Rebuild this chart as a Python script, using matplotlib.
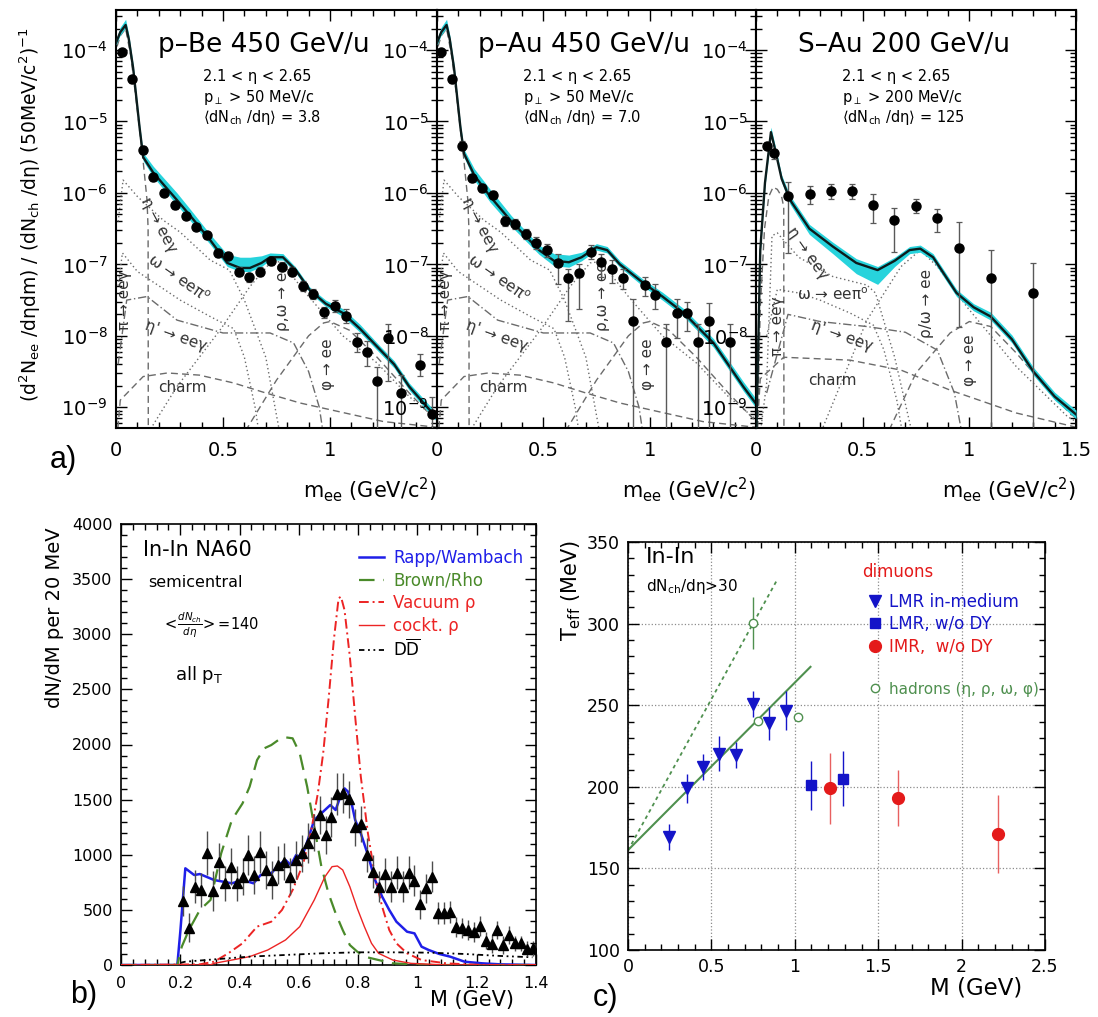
import numpy as np
import matplotlib
matplotlib.use("Agg")
import matplotlib.pyplot as plt
from matplotlib.ticker import MultipleLocator, LogLocator, NullFormatter, FuncFormatter

plt.rcParams['font.family'] = ['DejaVu Sans']
plt.rcParams['mathtext.fontset'] = 'dejavusans'

# ---------------- a) CERES e+e- spectra, values are log10 of the yield ----------------
pBe_m = [0.028, 0.075, 0.127, 0.175, 0.224, 0.275, 0.325, 0.376, 0.425, 0.475, 0.525, 0.574, 0.622, 0.674,
         0.724, 0.775, 0.823, 0.873, 0.922, 0.972, 1.023, 1.073, 1.124, 1.172, 1.22, 1.27, 1.33, 1.42, 1.475]
pBe_y = [-4.03, -4.41, -5.40, -5.78, -6.00, -6.17, -6.32, -6.47, -6.59, -6.84, -6.88, -7.10, -7.18, -7.10,
         -6.95, -7.03, -7.10, -7.30, -7.42, -7.67, -7.58, -7.72, -8.08, -8.22, -8.63, -8.03, -8.80, -8.41, -9.10]
pBe_dn = [0.04, 0.05, 0.05, 0.05, 0.05, 0.05, 0.05, 0.05, 0.05, 0.05, 0.05, 0.06, 0.06, 0.06, 0.06, 0.06,
          0.06, 0.07, 0.07, 0.08, 0.08, 0.1, 0.15, 0.2, 1.5, 0.6, 1.5, 0.15, 0.5]
pBe_up = [0.04, 0.05, 0.05, 0.05, 0.05, 0.05, 0.05, 0.05, 0.05, 0.05, 0.05, 0.06, 0.06, 0.06, 0.06, 0.06,
          0.06, 0.07, 0.07, 0.08, 0.08, 0.1, 0.12, 0.15, 0.2, 0.2, 0.25, 0.15, 0.25]
pBe_tot_m = [0.0, 0.02, 0.045, 0.06, 0.08, 0.11, 0.127, 0.175, 0.285, 0.35, 0.44, 0.52, 0.58, 0.626, 0.68,
             0.72, 0.78, 0.84, 0.906, 0.98, 1.06, 1.14, 1.22, 1.3, 1.37, 1.44, 1.5]
pBe_tot_y = [-3.9, -3.75, -3.65, -3.85, -4.25, -5.08, -5.5, -5.72, -6.1, -6.33, -6.66, -6.98, -7.05, -7.05,
             -6.98, -6.9, -6.9, -7.08, -7.36, -7.55, -7.68, -7.9, -8.15, -8.4, -8.71, -8.95, -9.15]
pBe_band_dn = [0.03, 0.04, 0.04, 0.04, 0.05, 0.05, 0.05, 0.06, 0.07, 0.07, 0.06, 0.05, 0.05, 0.05, 0.05,
               0.04, 0.04, 0.04, 0.04, 0.04, 0.05, 0.05, 0.05, 0.05, 0.05, 0.05, 0.05]
pBe_band_up = [0.05, 0.07, 0.08, 0.06, 0.05, 0.05, 0.06, 0.09, 0.1, 0.09, 0.08, 0.12, 0.15, 0.15, 0.1,
               0.06, 0.05, 0.04, 0.04, 0.05, 0.06, 0.06, 0.05, 0.05, 0.05, 0.06, 0.06]

pAu_m = [0.02, 0.07, 0.118, 0.165, 0.212, 0.264, 0.32, 0.368, 0.42, 0.467, 0.519, 0.571, 0.618, 0.67,
         0.722, 0.773, 0.821, 0.873, 0.92, 0.976, 1.024, 1.075, 1.127, 1.175, 1.226, 1.278, 1.377]
pAu_y = [-4.03, -4.41, -5.34, -5.79, -5.93, -6.03, -6.39, -6.43, -6.57, -6.70, -6.80, -6.98, -7.19, -7.12,
         -6.83, -6.97, -7.06, -7.19, -7.79, -7.29, -7.43, -8.08, -7.68, -7.68, -8.08, -7.79, -8.08]
pAu_dn = [0.04, 0.05, 0.06, 0.06, 0.06, 0.06, 0.07, 0.07, 0.07, 0.08, 0.1, 0.3, 0.6, 0.5, 0.1, 0.2, 0.2,
          0.15, 2.0, 0.15, 0.2, 2.0, 0.35, 0.25, 2.0, 2.0, 2.0]
pAu_up = [0.04, 0.05, 0.06, 0.06, 0.06, 0.06, 0.07, 0.07, 0.07, 0.08, 0.08, 0.12, 0.12, 0.12, 0.1, 0.12,
          0.12, 0.12, 0.3, 0.12, 0.15, 0.25, 0.2, 0.15, 0.25, 0.25, 0.25]
pAu_tot_m = [0.0, 0.02, 0.045, 0.06, 0.08, 0.11, 0.127, 0.175, 0.25, 0.35, 0.48, 0.55, 0.62, 0.68, 0.75,
             0.8, 0.86, 0.97, 1.06, 1.16, 1.3, 1.44, 1.5]
pAu_tot_y = [-3.9, -3.75, -3.65, -3.85, -4.25, -5.08, -5.45, -5.75, -6.05, -6.4, -6.8, -6.95, -6.97, -6.9,
             -6.76, -6.8, -7.0, -7.26, -7.45, -7.68, -8.1, -8.71, -8.95]
pAu_band_dn = [0.03, 0.04, 0.04, 0.04, 0.05, 0.05, 0.05, 0.07, 0.08, 0.07, 0.06, 0.07, 0.07, 0.05, 0.04,
               0.04, 0.04, 0.05, 0.05, 0.05, 0.06, 0.06, 0.06]
pAu_band_up = [0.05, 0.07, 0.08, 0.06, 0.05, 0.05, 0.06, 0.09, 0.1, 0.08, 0.07, 0.1, 0.1, 0.07, 0.05,
               0.05, 0.05, 0.05, 0.06, 0.06, 0.06, 0.07, 0.07]

SAu_m = [0.052, 0.085, 0.15, 0.253, 0.352, 0.45, 0.55, 0.648, 0.75, 0.85, 0.953, 1.10, 1.30]
SAu_y = [-5.34, -5.44, -6.04, -6.01, -5.97, -5.97, -6.17, -6.38, -6.18, -6.35, -6.77, -7.19, -7.40]
SAu_dn = [0.05, 0.08, 0.8, 0.15, 0.12, 0.12, 0.25, 0.45, 0.1, 0.2, 1.1, 2.5, 2.5]
SAu_up = [0.05, 0.06, 0.19, 0.1, 0.1, 0.1, 0.15, 0.17, 0.1, 0.12, 0.37, 0.39, 0.42]
SAu_tot_m = [0.002, 0.02, 0.042, 0.07, 0.09, 0.12, 0.16, 0.25, 0.36, 0.47, 0.57, 0.65, 0.72, 0.77, 0.83,
             0.94, 1.02, 1.1, 1.2, 1.3, 1.4, 1.5]
SAu_tot_y = [-9.3, -6.8, -5.86, -5.15, -5.4, -5.8, -6.1, -6.5, -6.75, -6.98, -7.08, -6.95, -6.8, -6.78,
             -6.9, -7.4, -7.6, -7.73, -8.05, -8.5, -8.85, -9.1]
SAu_band_dn = [0.05, 0.05, 0.05, 0.05, 0.05, 0.05, 0.06, 0.08, 0.1, 0.15, 0.2, 0.08, 0.05, 0.05, 0.05,
               0.05, 0.05, 0.05, 0.05, 0.05, 0.05, 0.06]
SAu_band_up = [0.05, 0.05, 0.06, 0.07, 0.06, 0.05, 0.06, 0.06, 0.06, 0.06, 0.05, 0.05, 0.05, 0.05, 0.05,
               0.05, 0.05, 0.06, 0.06, 0.06, 0.06, 0.06]

# hadron decay cocktail for the p-A panels (log10 yield)
pp_pi0_m = [0.005, 0.02, 0.045, 0.07, 0.1, 0.125, 0.145, 0.15, 0.151]
pp_pi0_y = [-3.95, -3.8, -3.7, -4.1, -4.85, -5.5, -6.1, -6.5, -9.6]
pp_eta_m = [0.01, 0.033, 0.1, 0.22, 0.3, 0.44, 0.53, 0.6, 0.7, 0.78]
pp_eta_y = [-6.4, -5.82, -6.05, -6.38, -6.55, -6.94, -7.08, -7.5, -8.3, -9.6]
pp_omega_m = [0.01, 0.03, 0.1, 0.2, 0.3, 0.44, 0.55, 0.6, 0.65, 0.68]
pp_omega_y = [-7.3, -6.84, -7.1, -7.3, -7.5, -7.73, -7.9, -8.3, -9.0, -9.6]
pp_etap_m = [0.01, 0.05, 0.145, 0.285, 0.5, 0.72, 0.83, 0.9, 0.95, 0.98]
pp_etap_y = [-8.4, -7.5, -7.45, -7.78, -7.96, -7.96, -8.1, -8.5, -9.0, -9.6]
pp_rho_m = [0.1, 0.285, 0.486, 0.626, 0.72, 0.77, 0.9, 1.06, 1.22, 1.37, 1.5]
pp_rho_y = [-9.6, -8.71, -7.92, -7.31, -6.98, -6.96, -7.45, -8.0, -8.38, -8.85, -9.17]
pp_charm_m = [0.0, 0.02, 0.127, 0.24, 0.39, 0.55, 0.7, 0.86, 1.01, 1.25, 1.5]
pp_charm_y = [-9.6, -8.9, -8.57, -8.52, -8.55, -8.66, -8.8, -8.94, -9.04, -9.2, -9.28]
pp_phi_m = [0.55, 0.75, 0.9, 0.97, 1.0, 1.09, 1.22, 1.37, 1.5]
pp_phi_y = [-9.6, -8.62, -8.0, -7.82, -7.8, -7.92, -8.3, -8.8, -9.2]

# cocktail for the S-Au panel
sa_pi0_m = [0.005, 0.02, 0.04, 0.06, 0.08, 0.1, 0.12, 0.13, 0.131]
sa_pi0_y = [-9.6, -7.6, -6.5, -6.05, -5.92, -5.95, -6.05, -6.2, -9.6]
sa_eta_m = [0.01, 0.05, 0.075, 0.1, 0.2, 0.36, 0.52, 0.56, 0.65, 0.75]
sa_eta_y = [-9.6, -8.66, -6.6, -6.56, -6.9, -7.17, -7.29, -7.4, -8.3, -9.6]
sa_omega_m = [0.05, 0.1, 0.2, 0.3, 0.44, 0.55, 0.6, 0.66, 0.7]
sa_omega_y = [-8.0, -7.35, -7.4, -7.5, -7.68, -7.85, -8.2, -8.9, -9.6]
sa_etap_m = [0.05, 0.15, 0.3, 0.52, 0.7, 0.85, 0.93, 0.98]
sa_etap_y = [-8.8, -7.7, -7.8, -7.87, -7.95, -8.2, -8.8, -9.6]
sa_rho_m = [0.27, 0.52, 0.68, 0.77, 0.85, 0.99, 1.22, 1.46, 1.5]
sa_rho_y = [-9.6, -7.78, -7.03, -6.8, -7.03, -7.6, -8.43, -9.13, -9.2]
sa_charm_m = [0.0, 0.02, 0.13, 0.44, 0.68, 0.91, 1.22, 1.46, 1.5]
sa_charm_y = [-9.6, -8.6, -8.3, -8.34, -8.48, -8.76, -9.08, -9.25, -9.28]
sa_phi_m = [0.58, 0.75, 0.91, 1.0, 1.1, 1.22, 1.38, 1.47, 1.5]
sa_phi_y = [-9.6, -8.52, -7.96, -7.8, -7.87, -8.24, -8.8, -9.08, -9.15]

pp_labels = [("η → eeγ", 0.2, -6.45, -62), ("ω → eeπ$^{\\rm o}$", 0.29, -7.2, -35),
             ("η' → eeγ", 0.28, -8.0, -20), ("π → eeγ", 0.04, -7.5, 90), ("charm", 0.31, -8.72, 0),
             ("ρ,ω → ee", 0.78, -7.45, 90), ("φ → ee", 0.99, -8.4, 90)]
sa_labels = [("η → eeγ", 0.24, -6.85, -55), ("ω → eeπ$^{\\rm o}$", 0.36, -7.43, 0),
             ("η' → eeγ", 0.4, -8.0, -20), ("π → eeγ", 0.1, -7.87, 90), ("charm", 0.36, -8.62, 0),
             ("ρ/ω → ee", 0.8, -7.54, 90), ("φ → ee", 1.0, -8.34, 90)]

# ---------------- b) NA60 In-In ----------------
na60_M = np.round(np.arange(0.21, 1.40, 0.02), 2)
na60_N = [580, 339, 710, 680, 1013, 671, 937, 741, 892, 741, 801, 998, 816, 1028, 862, 771, 907, 937, 801, 952,
          1013, 1104, 1200, 1360, 1179, 1345, 1551, 1557, 1503, 1249, 1279, 998, 847, 710, 825, 710, 837, 710,
          837, 765, 550, 695, 801, 469, 469, 484, 348, 333, 317, 302, 357, 221, 190, 317, 181, 272, 196, 196,
          148, 151]
na60_err = [140, 130, 150, 150, 200, 180, 170, 160, 170, 160, 170, 180, 170, 190, 170, 170, 170, 170, 170, 170,
            170, 180, 170, 170, 170, 180, 190, 180, 170, 170, 160, 150, 150, 140, 150, 140, 150, 140, 150, 140,
            130, 130, 140, 100, 100, 100, 90, 90, 90, 90, 90, 80, 80, 80, 80, 80, 70, 70, 70, 70]

rw_M = [0.0, 0.19, 0.2, 0.217, 0.247, 0.266, 0.314, 0.374, 0.41, 0.447, 0.471, 0.507, 0.531, 0.555, 0.573,
        0.591, 0.609, 0.63, 0.652, 0.676, 0.706, 0.724, 0.742, 0.754, 0.766, 0.778, 0.79, 0.809, 0.833, 0.857,
        0.881, 0.905, 0.929, 0.965, 0.99, 1.014, 1.038, 1.074, 1.11, 1.159, 1.219, 1.28, 1.4]
rw_N = [0, 0, 300, 877, 816, 825, 771, 741, 771, 741, 816, 831, 907, 952, 907, 998, 967, 1134, 1315, 1376, 1451,
        1406, 1542, 1602, 1572, 1466, 1315, 1194, 998, 771, 620, 499, 393, 302, 287, 166, 136, 100, 76, 30, 15,
        6, 0]
br_M = [0.0, 0.19, 0.205, 0.229, 0.266, 0.302, 0.338, 0.374, 0.41, 0.434, 0.459, 0.483, 0.507, 0.531, 0.555,
        0.579, 0.603, 0.628, 0.652, 0.676, 0.7, 0.724, 0.748, 0.772, 0.797, 0.821, 0.869, 0.917, 1.04, 1.4]
br_N = [0, 0, 166, 317, 499, 590, 1013, 1315, 1466, 1618, 1859, 1965, 1995, 2041, 2065, 2056, 1920, 1618, 1255,
        892, 650, 469, 317, 181, 121, 76, 45, 15, 0, 0]
vac_M = [0.0, 0.266, 0.314, 0.362, 0.41, 0.459, 0.507, 0.543, 0.579, 0.615, 0.64, 0.664, 0.682, 0.7, 0.718,
         0.734, 0.742, 0.754, 0.772, 0.79, 0.809, 0.833, 0.857, 0.881, 0.905, 0.929, 0.965, 1.014, 1.098,
         1.219, 1.4]
vac_N = [0, 6, 30, 106, 197, 348, 393, 499, 680, 922, 1194, 1557, 1920, 2404, 2948, 3326, 3341, 3220, 2797,
         2252, 1708, 1194, 801, 529, 317, 197, 106, 45, 15, 0, 0]
ck_M = [0.0, 0.3, 0.314, 0.374, 0.434, 0.495, 0.555, 0.603, 0.652, 0.688, 0.712, 0.73, 0.748, 0.772, 0.797,
        0.821, 0.845, 0.869, 0.917, 0.978, 1.098, 1.4]
ck_N = [0, 0, 15, 45, 76, 136, 227, 348, 590, 801, 892, 898, 862, 710, 514, 348, 197, 106, 45, 15, 0, 0]
dd_M = [0.2, 0.217, 0.314, 0.434, 0.555, 0.676, 0.797, 0.917, 1.038, 1.159, 1.28, 1.388]
dd_N = [20, 30, 51, 76, 91, 106, 115, 115, 112, 100, 82, 70]

# ---------------- c) T_eff vs M ----------------
lmr_M = [0.248, 0.351, 0.45, 0.546, 0.649, 0.749, 0.848, 0.946]
lmr_T = [169.0, 199.0, 212.2, 220.4, 219.4, 251.0, 238.8, 246.5]
lmr_err = [8, 9, 8, 11, 8, 8, 10, 12]
lmrdy_M = [1.10, 1.289]
lmrdy_T = [201, 205]
lmrdy_err = [15, 17]
imr_M = [1.211, 1.617, 2.219]
imr_T = [199, 193, 171]
imr_err = [22, 17, 24]
had_M = [0.751, 0.78, 1.018]
had_T = [300.4, 240.4, 242.9]
had_err = [16, 0, 0]
fit_M = [0.0, 1.094]
fit_T = [161.2, 273.5]
steep_M = [0.0, 0.895]
steep_T = [161.0, 327.0]

W, H = 1098, 1017
fig = plt.figure(figsize=(W / 100, H / 100), dpi=100)


def box(l, t, r, b):
    return [l / W, 1 - b / H, (r - l) / W, (b - t) / H]


def ftext(x, y, s, **kw):
    fig.text(x / W, 1 - y / H, s, **kw)


def root_ticks(ax, size, lw=1.2, xpad=6):
    ax.tick_params(which='both', direction='in', top=True, right=True, labelsize=size, width=1.0)
    ax.tick_params(which='major', length=8, pad=6)
    ax.tick_params(axis='x', which='major', pad=xpad)
    ax.tick_params(which='minor', length=4)
    for s in ax.spines.values():
        s.set_linewidth(lw)


cyan = '#27d3dc'
gray = '0.42'
styles = [(0, (5, 3)), (0, (1, 2)), (0, (1, 2)), (0, (6, 2, 1, 2)), (0, (1, 2)), (0, (5, 3)), (0, (5, 3))]
pp_comps = [(pp_pi0_m, pp_pi0_y), (pp_eta_m, pp_eta_y), (pp_omega_m, pp_omega_y), (pp_etap_m, pp_etap_y),
            (pp_rho_m, pp_rho_y), (pp_charm_m, pp_charm_y), (pp_phi_m, pp_phi_y)]
sa_comps = [(sa_pi0_m, sa_pi0_y), (sa_eta_m, sa_eta_y), (sa_omega_m, sa_omega_y), (sa_etap_m, sa_etap_y),
            (sa_rho_m, sa_rho_y), (sa_charm_m, sa_charm_y), (sa_phi_m, sa_phi_y)]


def ceres(ax, m, y, dn, up, tm, ty, bdn, bup, comps, labels, title, info, xt):
    for (cm, cy), ls in zip(comps, styles):
        ax.plot(cm, 10.0 ** np.array(cy), color=gray, lw=1.0, ls=ls, zorder=2)
    for s, x, yy, rot in labels:
        ax.text(x, 10.0 ** yy, s, rotation=rot, fontsize=11, color='0.2', ha='center', va='center',
                rotation_mode='anchor', zorder=2)
    ty = np.array(ty)
    ax.fill_between(tm, 10 ** (ty - np.array(bdn)), 10 ** (ty + np.array(bup)), color=cyan, lw=0, zorder=3)
    ax.plot(tm, 10 ** ty, color='#0c1c1c', lw=1.7, zorder=4)
    y = np.array(y)
    v = 10 ** y
    ax.errorbar(m, v, yerr=[v - 10 ** (y - np.array(dn)), 10 ** (y + np.array(up)) - v], fmt='o', ms=6.5,
                color='black', ecolor='0.35', elinewidth=1.0, capsize=2.5, capthick=0.9, zorder=5)
    ax.set_yscale('log')
    ax.set_xlim(0, 1.5)
    ax.set_ylim(10 ** -9.29, 10 ** -3.44)
    ax.yaxis.set_major_locator(LogLocator(base=10, numticks=20))
    ax.yaxis.set_minor_locator(LogLocator(base=10, subs=np.arange(2, 10), numticks=20))
    ax.yaxis.set_minor_formatter(NullFormatter())
    ax.set_xticks(xt, ['%g' % t for t in xt])
    ax.xaxis.set_minor_locator(MultipleLocator(0.1))
    root_ticks(ax, 14, 1.5, xpad=9)
    ax.text(0.13, 0.916, title, transform=ax.transAxes, fontsize=19, va='center', ha='left', zorder=6)
    for i, s in enumerate(info):
        ax.text(0.27, 0.84 - 0.049 * i, s, transform=ax.transAxes, fontsize=10.5, va='center', ha='left',
                zorder=6)


axa1 = fig.add_axes(box(116, 10, 437, 428))
axa2 = fig.add_axes(box(437, 10, 756, 428))
axa3 = fig.add_axes(box(756, 10, 1076, 428))

ceres(axa1, pBe_m, pBe_y, pBe_dn, pBe_up, pBe_tot_m, pBe_tot_y, pBe_band_dn, pBe_band_up, pp_comps,
      pp_labels, "p–Be 450 GeV/u",
      ["2.1 < η < 2.65", "p$_{\\perp}$ > 50 MeV/c", "$\\langle$dN$_{\\rm ch}$ /dη$\\rangle$ = 3.8"], [0, 0.5, 1])
ceres(axa2, pAu_m, pAu_y, pAu_dn, pAu_up, pAu_tot_m, pAu_tot_y, pAu_band_dn, pAu_band_up, pp_comps,
      pp_labels, "p–Au 450 GeV/u",
      ["2.1 < η < 2.65", "p$_{\\perp}$ > 50 MeV/c", "$\\langle$dN$_{\\rm ch}$ /dη$\\rangle$ = 7.0"], [0, 0.5, 1])
ceres(axa3, SAu_m, SAu_y, SAu_dn, SAu_up, SAu_tot_m, SAu_tot_y, SAu_band_dn, SAu_band_up, sa_comps,
      sa_labels, "S–Au 200 GeV/u",
      ["2.1 < η < 2.65", "p$_{\\perp}$ > 200 MeV/c", "$\\langle$dN$_{\\rm ch}$ /dη$\\rangle$ = 125"],
      [0, 0.5, 1, 1.5])

for xr in (437, 756, 1076):
    ftext(xr, 490, "m$_{\\rm ee}$ (GeV/c$^2$)", fontsize=15, ha='right', va='center')
ftext(30, 215, "(d$^2$N$_{\\rm ee}$ /dηdm) / (dN$_{\\rm ch}$ /dη) (50MeV/c$^2$)$^{-1}$", fontsize=13.5,
      rotation=90, ha='center', va='center')

# ---------------- panel b ----------------
axb = fig.add_axes(box(121, 524, 536, 965))
blue, green, red = '#1f1fe8', '#4a8a2a', '#ec2424'
axb.plot(rw_M, rw_N, color=blue, lw=1.8, label="Rapp/Wambach", zorder=3)
axb.plot(br_M, br_N, color=green, lw=1.6, ls=(0, (7, 4)), label="Brown/Rho", zorder=3)
axb.plot(vac_M, vac_N, color=red, lw=1.4, ls=(0, (5, 2, 1, 2)), label="Vacuum ρ", zorder=3)
axb.plot(ck_M, ck_N, color=red, lw=1.0, label="cockt. ρ", zorder=3)
axb.plot(dd_M, dd_N, color='black', lw=1.3, ls=(0, (3, 2, 1, 2, 1, 2)), label="D$\\overline{\\rm D}$",
         zorder=3)
axb.errorbar(na60_M, na60_N, yerr=na60_err, fmt='^', ms=7.5, color='black', ecolor='0.3', elinewidth=1.0,
             zorder=4)
axb.set_xlim(0, 1.4)
axb.set_ylim(0, 4000)
axb.xaxis.set_major_locator(MultipleLocator(0.2))
axb.xaxis.set_minor_locator(MultipleLocator(0.04))
axb.yaxis.set_major_locator(MultipleLocator(500))
axb.yaxis.set_minor_locator(MultipleLocator(100))
axb.xaxis.set_major_formatter(FuncFormatter(lambda v, p: '%g' % round(v, 2)))
root_ticks(axb, 11.5, xpad=8)
leg = axb.legend(loc='upper left', bbox_to_anchor=(0.5735, 0.943), frameon=False, fontsize=12,
                 handlelength=1.5, handletextpad=0.55, labelspacing=0.27, borderpad=0, borderaxespad=0,
                 labelcolor='linecolor')
axb.text(0.053, 0.941, "In-In NA60", transform=axb.transAxes, fontsize=15, va='center')
axb.text(0.065, 0.868, "semicentral", transform=axb.transAxes, fontsize=11.5, va='center')
axb.text(0.099, 0.771, "$<\\!\\frac{dN_{ch}}{d\\eta}\\!>$=140", transform=axb.transAxes, fontsize=10.5,
         va='center')
axb.text(0.13, 0.658, "all p$_{\\rm T}$", transform=axb.transAxes, fontsize=13, va='center')
ftext(55, 618, "dN/dM per 20 MeV", fontsize=14, rotation=90, ha='center', va='center')
ftext(514, 1000, "M (GeV)", fontsize=15, ha='right', va='center')

# ---------------- panel c ----------------
axc = fig.add_axes(box(628, 542, 1045, 950))
cblue, cred, cgreen = '#1414c8', '#e41a1a', '#4f904f'
axc.grid(True, which='major', ls=':', color='0.55', lw=0.9)
axc.set_axisbelow(True)
axc.plot(fit_M, fit_T, color=cgreen, lw=1.5, zorder=2)
axc.plot(steep_M, steep_T, color=cgreen, lw=1.3, ls=(0, (2, 2)), zorder=2)
e1 = axc.errorbar(lmr_M, lmr_T, yerr=lmr_err, fmt='v', ms=8.5, color=cblue, elinewidth=1.0, zorder=4)
e2 = axc.errorbar(lmrdy_M, lmrdy_T, yerr=lmrdy_err, fmt='s', ms=7.5, color=cblue, elinewidth=1.0, zorder=4)
e3 = axc.errorbar(imr_M, imr_T, yerr=imr_err, fmt='o', ms=8.5, color=cred, ecolor='#e86060', elinewidth=1.0,
                  zorder=4)
e4 = axc.errorbar(had_M, had_T, yerr=had_err, fmt='o', ms=6, mfc='white', mec=cgreen, ecolor=cgreen,
                  elinewidth=1.0, zorder=3)
blank, = axc.plot([], [], color='none')
axc.set_xlim(0, 2.5)
axc.set_ylim(100, 350)
axc.xaxis.set_major_locator(MultipleLocator(0.5))
axc.xaxis.set_minor_locator(MultipleLocator(0.1))
axc.yaxis.set_major_locator(MultipleLocator(50))
axc.yaxis.set_minor_locator(MultipleLocator(10))
axc.xaxis.set_major_formatter(FuncFormatter(lambda v, p: '%g' % v))
root_ticks(axc, 12.5)
legc = axc.legend(handles=[e1[0], e2[0], e3[0], blank, e4[0]],
                  labels=["LMR in-medium", "LMR, w/o DY", "IMR,  w/o DY", " ", "hadrons (η, ρ, ω, φ)"],
                  loc='upper left', bbox_to_anchor=(0.572, 0.875), frameon=False, fontsize=12,
                  handlelength=1.0, handletextpad=0.35, labelspacing=0.26, borderpad=0, borderaxespad=0)
for t, c in zip(legc.get_texts(), [cblue, cblue, cred, 'white', cgreen]):
    t.set_color(c)
legc.get_texts()[4].set_fontsize(11)
ftext(862, 572, "dimuons", fontsize=12, color=cred, va='center')
axc.text(0.043, 0.963, "In-In", transform=axc.transAxes, fontsize=16, va='center')
axc.text(0.043, 0.892, "dN$_{\\rm ch}$/dη>30", transform=axc.transAxes, fontsize=11, va='center')
ftext(571, 590, "T$_{\\rm eff}$ (MeV)", fontsize=15, rotation=90, ha='center', va='center')
ftext(1022, 988, "M (GeV)", fontsize=16.5, ha='right', va='center')

ftext(50, 460, "a)", fontsize=22, family='Liberation Sans', va='center')
ftext(70, 995, "b)", fontsize=22, family='Liberation Sans', va='center')
ftext(593, 998, "c)", fontsize=22, family='Liberation Sans', va='center')

fig.savefig("out.png", dpi=100)
